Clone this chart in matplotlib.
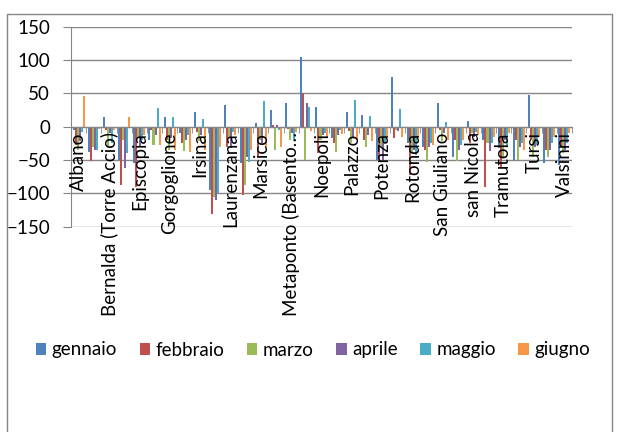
import matplotlib
matplotlib.use("Agg")
import matplotlib.pyplot as plt
import numpy as np
from matplotlib.patches import Rectangle

plt.rcParams['font.family'] = ['Lato', 'DejaVu Sans']

# stazioni (solo quelle pari sono etichettate nel grafico originale)
stazioni = ["Albano", "Avigliano", "Bernalda (Torre Accio)", "Chiaromonte",
            "Episcopia", "Genzano", "Gorgoglione", "Grassano", "Irsina",
            "Lagonegro", "Laurenzana", "Maratea", "Marsico", "Matera",
            "Metaponto (Basento…", "Montalbano", "Noepoli", "Oppido",
            "Palazzo", "Pisticci", "Potenza", "Rionero", "Rotonda",
            "San Chirico", "San Giuliano", "San Mauro", "san Nicola",
            "Stigliano", "Tramutola", "Tricarico", "Tursi", "Vaglio",
            "Valsinni"]

mesi = ["gennaio", "febbraio", "marzo", "aprile", "maggio", "giugno"]

gennaio = [-5, -38, 15, -50, -55, -20, 15, -10, 22, -95, 33, -55, 5, 25, 35, 104,
           29, -17, 22, 17, -50, 74, -25, -30, 35, -45, 9, -20, -32, -50, 48, -55, -57]
febbraio = [-28, -52, -5, -87, -90, -5, -20, -25, -8, -131, -30, -102, -45, 3, -3, 51,
            -40, -25, -7, -20, -52, -17, -72, -35, -5, -20, -25, -90, -60, -20, -20, -35, -30]
marzo = [-35, -30, -30, -20, -15, -28, -35, -37, -22, -105, -15, -87, -20, -35, -20, -50,
         -20, -38, -25, -30, -30, -5, -40, -53, -22, -52, -10, -25, -45, -50, -45, -45, -40]
aprile = [-22, -35, -10, -62, -30, -12, -17, -20, -12, -110, -32, -45, -25, 2, -10, 36,
          -12, -12, -15, -12, -50, -7, -35, -30, -10, -35, -15, -37, -20, -30, -30, -35, -35]
maggio = [-8, -35, -25, -40, -20, 28, 15, -12, 11, -100, -8, -53, 38, -5, -22, 30,
          -10, -5, 40, 16, -25, 26, -42, -25, 7, -28, -8, -25, -30, -25, -28, -25, -25]
giugno = [46, -3, -5, 14, -12, -28, -35, -38, -35, -30, -12, -35, -30, -30, -8, -7,
          -15, -11, -20, -22, -20, -16, -20, -27, -20, -20, -12, -15, -10, -35, -15, -15, -10]

serie = [gennaio, febbraio, marzo, aprile, maggio, giugno]
colori = ["#4F81BD", "#C0504D", "#9BBB59", "#8064A2", "#4BACC6", "#F79646"]
grigio = "#868686"
fs = 13.5

fig = plt.figure(figsize=(6.26, 4.32), dpi=100)
ax = fig.add_axes([71/626, 1-226.7/432, (572-71)/626, (226.7-26.7)/432])

x = np.arange(len(stazioni))
w = 1/7.5
for j, (vals, col, nome) in enumerate(zip(serie, colori, mesi)):
    ax.bar(x - 0.5 + w*(j+1.25), vals, width=w, color=col, label=nome, zorder=2)

ax.set_xlim(-0.5, len(stazioni)-0.5)
ax.set_ylim(-150, 150)
ax.set_yticks([-150, -100, -50, 0, 50, 100, 150])
ax.yaxis.grid(True, color=grigio, linewidth=1)
ax.set_axisbelow(True)
ax.xaxis.set_zorder(3)   # etichette sopra le barre, come in Excel

for s in ['top', 'right']:
    ax.spines[s].set_visible(False)
ax.spines['left'].set_color(grigio)
ax.spines['bottom'].set_color(grigio)
ax.spines['bottom'].set_position(('data', 0))

ax.tick_params(axis='y', direction='out', length=6, color=grigio, pad=9, labelsize=fs)
ax.set_xticks(x)
ax.set_xticklabels([s if i % 2 == 0 else '' for i, s in enumerate(stazioni)],
                   rotation=90, fontsize=fs)
ax.tick_params(axis='x', which='major', length=0, pad=4)
ax.set_xticks(np.arange(-0.5, len(stazioni)), minor=True)
ax.tick_params(axis='x', which='minor', direction='out', length=4, color=grigio)

fig.legend(loc='center', bbox_to_anchor=(0.5, 1-350/432), ncol=6, frameon=False,
           fontsize=fs, handlelength=0.55, handleheight=0.55, handletextpad=0.3,
           columnspacing=1.2)

fig.add_artist(Rectangle((7/626, -0.1), (612-7)/626, 1.1-14/432,
                         transform=fig.transFigure, fill=False,
                         edgecolor=grigio, linewidth=1))

fig.savefig("out.png", dpi=100)
